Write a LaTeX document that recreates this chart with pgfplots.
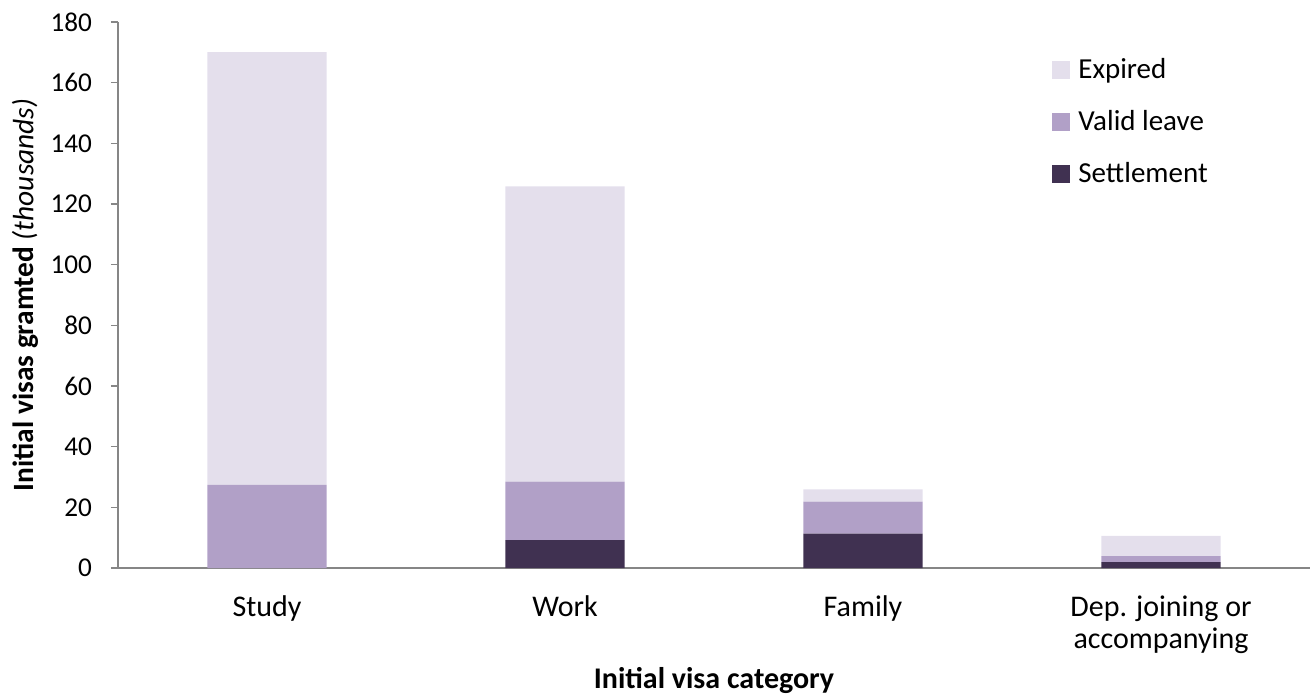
\documentclass[border=0pt]{standalone}
\usepackage{fontspec}
\setmainfont{Carlito}
\usepackage{pgfplots}
\pgfplotsset{compat=1.18}
\definecolor{cExp}{HTML}{E4DFEC}
\definecolor{cVal}{HTML}{B1A0C7}
\definecolor{cSet}{HTML}{403151}
\definecolor{axgray}{HTML}{868686}
\begin{document}
\begin{tikzpicture}
\useasboundingbox (-59pt,-64.5pt) rectangle (598.5pt,284pt);
\begin{axis}[
  scale only axis,
  width=596pt, height=273pt,
  at={(0pt,0pt)}, anchor=south west,
  ybar stacked,
  bar width=0.4,
  xmin=-0.5, xmax=3.5,
  ymin=0, ymax=180,
  ytick={0,20,...,180},
  xtick={0,1,2,3},
  xticklabels={Study,Work,Family,{Dep. joining or\\accompanying}},
  xticklabel style={align=center, font=\fontsize{15}{16}\selectfont, yshift=-7pt},
  yticklabel style={font=\fontsize{13.6}{14}\selectfont, xshift=-6pt},
  x tick style={draw=none},
  extra x ticks={-0.5,0.5,1.5,2.5,3.5},
  extra x tick labels={},
  extra x tick style={tick style={draw=axgray, thick}, major tick length=5pt},
  y tick style={draw=axgray, thick},
  major tick length=3.5pt,
  tick align=outside,
  xtick pos=left, ytick pos=left,
  axis x line*=bottom, axis y line*=left,
  axis line style={draw=axgray, thick, -},
  /pgf/number format/assume math mode=true,
  xlabel={\textbf{Initial visa category}},
  ylabel={\textbf{Initial visas gramted} \textit{(thousands)}},
  xlabel style={at={(axis description cs:0.5,-0.206)}, anchor=center, font=\fontsize{15}{16}\selectfont},
  ylabel style={at={(axis description cs:-0.0779,0.5)}, anchor=center, font=\fontsize{14.7}{16}\selectfont},
  legend style={draw=none, fill=none, at={(axis description cs:0.7785,0.948)}, anchor=north west,
    font=\fontsize{14.5}{15}\selectfont, row sep=10.3pt, legend cell align=left,
    /tikz/every odd column/.append style={column sep=2pt}},
  legend image code/.code={\fill[#1] (0pt,-4.5pt) rectangle (9pt,4.5pt);},
  reverse legend,
]
\addplot[fill=cSet, draw=none] coordinates {(0,0) (1,9.2) (2,11.3) (3,1.9)};
\addlegendentry{Settlement}
\addplot[fill=cVal, draw=none] coordinates {(0,27.4) (1,19.3) (2,10.6) (3,2.0)};
\addlegendentry{Valid leave}
\addplot[fill=cExp, draw=none] coordinates {(0,142.7) (1,97.3) (2,4.0) (3,6.7)};
\addlegendentry{Expired}
\end{axis}
\end{tikzpicture}
\end{document}
